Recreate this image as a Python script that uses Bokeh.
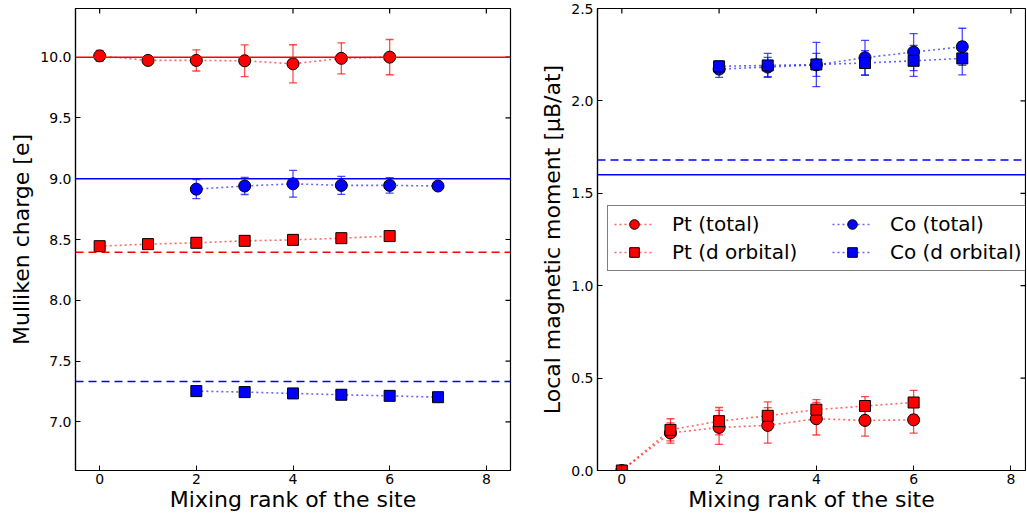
import math
from bokeh.plotting import figure
from bokeh.models import (ColumnDataSource, Whisker, TeeHead, FixedTicker, PrintfTickFormatter,
                          Range1d, Span, Legend, LegendItem)
from bokeh.layouts import row
from bokeh.embed import file_html
from bokeh.resources import INLINE

RED = "#ff0000"
BLUE = "#0000ff"
FONT = "DejaVu Sans"

# ---------------- data ----------------
pt_x = [0, 1, 2, 3, 4, 5, 6]
co_x = [2, 3, 4, 5, 6, 7]

# Mulliken charge
pt_tot_q = [10.01, 9.973, 9.973, 9.970, 9.945, 9.990, 10.0]
pt_tot_qerr = [0.045, 0.008, 0.087, 0.130, 0.157, 0.128, 0.145]
pt_d_q = [8.445, 8.462, 8.473, 8.489, 8.497, 8.511, 8.528]
pt_d_qerr = [0.008, 0.008, 0.010, 0.010, 0.010, 0.010, 0.010]
co_tot_q = [8.914, 8.940, 8.958, 8.945, 8.945, 8.940]
co_tot_qerr = [0.078, 0.070, 0.110, 0.074, 0.064, 0.020]
co_d_q = [7.253, 7.245, 7.234, 7.223, 7.214, 7.203]
co_d_qerr = [0.010, 0.010, 0.010, 0.010, 0.010, 0.010]
bulk_q = {"pt_tot": 10.0, "pt_d": 8.395, "co_tot": 9.0, "co_d": 7.332}

# Local magnetic moment
pt_tot_m = [0.0, 0.203, 0.233, 0.244, 0.280, 0.271, 0.274]
pt_tot_merr = [0.0, 0.055, 0.092, 0.096, 0.088, 0.085, 0.072]
pt_d_m = [0.0, 0.220, 0.267, 0.296, 0.329, 0.349, 0.368]
pt_d_merr = [0.0, 0.060, 0.074, 0.075, 0.055, 0.051, 0.066]
co_tot_m = [2.172, 2.183, 2.195, 2.234, 2.264, 2.293]
co_tot_merr = [0.045, 0.052, 0.062, 0.093, 0.100, 0.100]
co_d_m = [2.187, 2.192, 2.197, 2.205, 2.217, 2.230]
co_d_merr = [0.020, 0.065, 0.120, 0.067, 0.084, 0.089]
bulk_m = {"co_tot": 1.60, "co_d": 1.68}

x_ticks = [0, 2, 4, 6, 8]
q_ticks = [7.0, 7.5, 8.0, 8.5, 9.0, 9.5, 10.0]
m_ticks = [0.0, 0.5, 1.0, 1.5, 2.0, 2.5]


def make_fig(width, xr, yr, yticks, ylabel, border_left, border_right, ylabel_standoff):
    p = figure(width=width, height=519, x_range=Range1d(*xr), y_range=Range1d(*yr),
               output_backend="svg", toolbar_location=None,
               min_border_left=border_left, min_border_right=border_right,
               min_border_top=8, min_border_bottom=49)
    p.xgrid.visible = False
    p.ygrid.visible = False
    p.outline_line_color = "black"
    p.outline_line_width = 1.2
    p.background_fill_color = "white"
    p.border_fill_color = "white"
    p.xaxis.ticker = FixedTicker(ticks=x_ticks)
    p.yaxis.ticker = FixedTicker(ticks=yticks)
    p.yaxis.formatter = PrintfTickFormatter(format="%.1f")
    p.xaxis.axis_label = "Mixing rank of the site"
    p.yaxis.axis_label = ylabel
    for ax in p.xaxis + p.yaxis:
        ax.axis_label_text_font = FONT
        ax.axis_label_text_font_style = "normal"
        ax.axis_label_text_font_size = "22px"
        ax.axis_label_text_color = "black"
        ax.major_label_text_font = FONT
        ax.major_label_text_font_size = "14px"
        ax.major_label_text_color = "black"
        ax.major_tick_in = 5
        ax.major_tick_out = 0
        ax.minor_tick_in = 0
        ax.minor_tick_out = 0
        ax.axis_line_color = "black"
        ax.axis_line_width = 1.2
        ax.major_tick_line_color = "black"
    p.xaxis.major_label_standoff = 3
    p.xaxis.axis_label_standoff = 0
    p.yaxis.major_label_standoff = 4
    p.yaxis.axis_label_standoff = ylabel_standoff
    # mirrored inward ticks on the top and right edges (outer half clipped by the frame)
    p.scatter(x=x_ticks, y=[yr[1]] * len(x_ticks), marker="dash", angle=math.pi / 2,
              size=10, line_color="black", line_width=1.2)
    p.scatter(x=[xr[1]] * len(yticks), y=yticks, marker="dash", size=10,
              line_color="black", line_width=1.2)
    return p


def series(p, xs, ys, errs, color, marker):
    src = ColumnDataSource(dict(x=xs, y=ys))
    keep = [i for i, e in enumerate(errs) if e > 0]
    esrc = ColumnDataSource(dict(x=[xs[i] for i in keep],
                                 lo=[ys[i] - errs[i] for i in keep],
                                 hi=[ys[i] + errs[i] for i in keep]))
    w = Whisker(source=esrc, base="x", lower="lo", upper="hi", dimension="height",
                line_color=color, line_alpha=0.7, line_width=1.3,
                upper_head=TeeHead(size=8, line_color=color, line_alpha=0.7, line_width=1.3),
                lower_head=TeeHead(size=8, line_color=color, line_alpha=0.7, line_width=1.3))
    p.add_layout(w)
    ln = p.line("x", "y", source=src, line_color=color, line_alpha=0.6, line_width=1.6,
                line_dash="2 3")
    sc = p.scatter("x", "y", source=src, marker=marker, size=12 if marker == "circle" else 11,
                   fill_color=color, line_color="black", line_width=1)
    return [ln, sc]


# ---------------- left: Mulliken charge ----------------
p1 = make_fig(530, (-0.5, 8.5), (6.6, 10.4), q_ticks, "Mulliken charge [e]", 75, 20, 3)
p1.add_layout(Span(location=bulk_q["pt_tot"], dimension="width", line_color=RED, line_width=1.5))
p1.add_layout(Span(location=bulk_q["co_tot"], dimension="width", line_color=BLUE, line_width=1.5))
p1.add_layout(Span(location=bulk_q["pt_d"], dimension="width", line_color=RED, line_width=1.5,
                   line_dash="8 5"))
p1.add_layout(Span(location=bulk_q["co_d"], dimension="width", line_color=BLUE, line_width=1.5,
                   line_dash="8 5"))
series(p1, pt_x, pt_tot_q, pt_tot_qerr, RED, "circle")
series(p1, pt_x, pt_d_q, pt_d_qerr, RED, "square")
series(p1, co_x, co_tot_q, co_tot_qerr, BLUE, "circle")
series(p1, co_x, co_d_q, co_d_qerr, BLUE, "square")

# ---------------- right: magnetic moment ----------------
p2 = make_fig(496, (-0.5, 8.3), (0.0, 2.5), m_ticks, "Local magnetic moment [\u03bcB/at]", 67, 1, 3)
p2.add_layout(Span(location=bulk_m["co_tot"], dimension="width", line_color=BLUE, line_width=1.5))
p2.add_layout(Span(location=bulk_m["co_d"], dimension="width", line_color=BLUE, line_width=1.5,
                   line_dash="8 5"))
r_pt_tot = series(p2, pt_x, pt_tot_m, pt_tot_merr, RED, "circle")
r_pt_d = series(p2, pt_x, pt_d_m, pt_d_merr, RED, "square")
r_co_tot = series(p2, co_x, co_tot_m, co_tot_merr, BLUE, "circle")
r_co_d = series(p2, co_x, co_d_m, co_d_merr, BLUE, "square")

legend = Legend(items=[LegendItem(label="Pt (total)", renderers=r_pt_tot),
                       LegendItem(label="Pt (d orbital)", renderers=r_pt_d),
                       LegendItem(label="Co (total)", renderers=r_co_tot),
                       LegendItem(label="Co (d orbital)", renderers=r_co_d)],
                ncols=2, location=(10, 199), label_text_font=FONT, label_text_font_size="20px",
                label_text_color="black", glyph_width=40, glyph_height=24, label_standoff=18,
                label_height=24, label_width=156, spacing=4, padding=6, margin=0,
                border_line_color="black", border_line_width=1.2,
                background_fill_color="white", background_fill_alpha=1.0)
p2.add_layout(legend)

layout = row(p1, p2)
open("out.html", "w").write(file_html(layout, INLINE))
